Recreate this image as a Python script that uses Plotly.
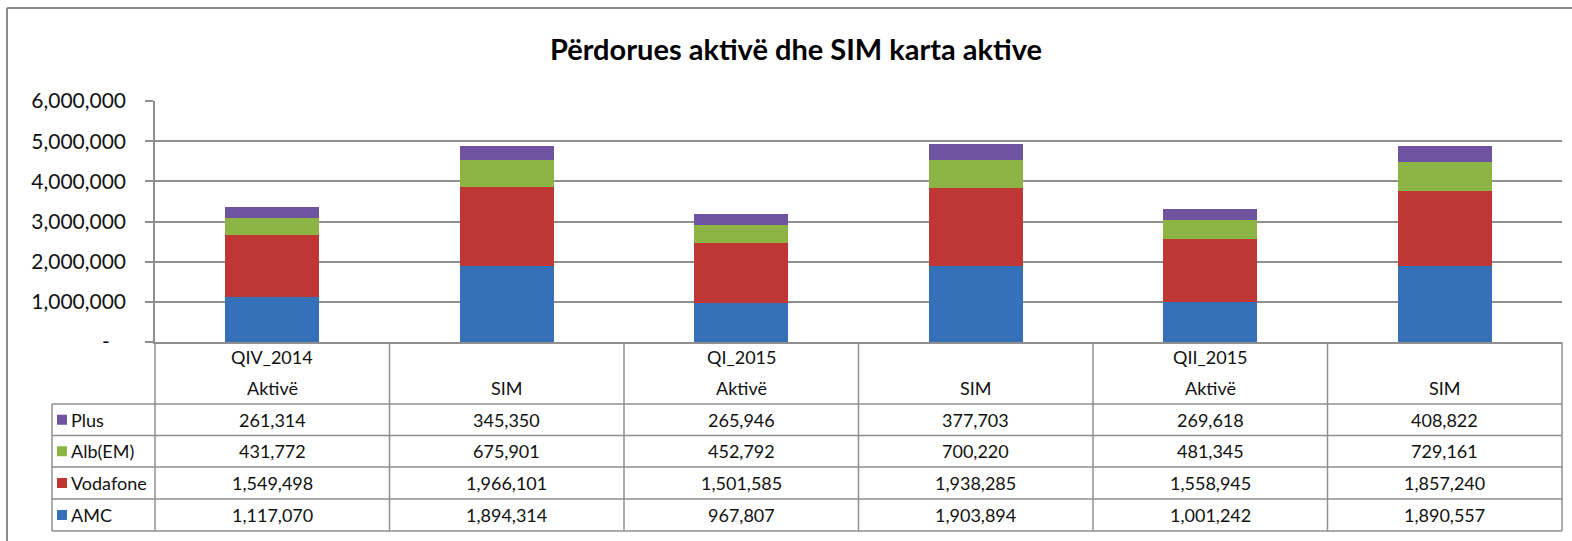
import plotly.graph_objects as go

# ---- data ----
group_labels = ["QIV_2014", "", "QI_2015", "", "QII_2015", ""]
sub_labels = ["Aktivë", "SIM", "Aktivë", "SIM", "Aktivë", "SIM"]
series_names = ["AMC", "Vodafone", "Alb(EM)", "Plus"]
amc = [1117070, 1894314, 967807, 1903894, 1001242, 1890557]
vodafone = [1549498, 1966101, 1501585, 1938285, 1558945, 1857240]
alb_em = [431772, 675901, 452792, 700220, 481345, 729161]
plus = [261314, 345350, 265946, 377703, 269618, 408822]
y_tickvals = [0, 1000000, 2000000, 3000000, 4000000, 5000000, 6000000]
y_ticktext = ["-\u00a0\u00a0\u00a0", "1,000,000", "2,000,000", "3,000,000", "4,000,000", "5,000,000", "6,000,000"]

colors = {"AMC": "#3570b8", "Vodafone": "#be3735", "Alb(EM)": "#8cb445", "Plus": "#6f52a0"}
values = {"AMC": amc, "Vodafone": vodafone, "Alb(EM)": alb_em, "Plus": plus}

W, H = 1572, 541
L, R, T, B = 155, 1562, 101, 342
FONT = "Lato"
GRID = "#8f8f8f"
TXT = "#111111"


def px(x):
    return (x - L) / (R - L)


def py(y):
    return (B - y) / (B - T)


xs = list(range(len(sub_labels)))
fig = go.Figure()
for name in series_names:
    fig.add_trace(go.Bar(
        x=xs, y=values[name], name=name, width=0.4,
        marker=dict(color=colors[name], line=dict(width=0)),
        showlegend=False,
    ))

shapes = []
annotations = []


def line(x0, y0, x1, y1, color=GRID, width=1.5):
    shapes.append(dict(type="line", xref="paper", yref="paper",
                       x0=px(x0), y0=py(y0), x1=px(x1), y1=py(y1),
                       line=dict(color=color, width=width), layer="above"))


def text(x, y, s, xref="x", xanchor="center"):
    annotations.append(dict(xref=xref, yref="paper", x=x, y=y, text=s,
                            xanchor=xanchor, yanchor="middle", showarrow=False,
                            font=dict(family=FONT, size=18, color=TXT)))


# outer chart border (top and left)
line(7, 8, W + 5, 8, color="#8a8a8a", width=2)
line(7, 8, 7, H + 5, color="#8a8a8a", width=2)

# table geometry
col_w = (R - L) / len(sub_labels)
row_tops = [404, 435.5, 467, 499, 531]
leg_left = 52
for i in range(len(sub_labels) + 1):
    line(L + i * col_w, B, L + i * col_w, row_tops[-1])
line(leg_left, row_tops[0], leg_left, row_tops[-1])
for yv in row_tops:
    line(leg_left, yv, R, yv)

# header labels
for i in xs:
    if group_labels[i]:
        text(i, py(357), group_labels[i])
    text(i, py(388), sub_labels[i])

# rows (top to bottom: Plus, Alb(EM), Vodafone, AMC)
row_order = ["Plus", "Alb(EM)", "Vodafone", "AMC"]
for r, name in enumerate(row_order):
    yc = (row_tops[r] + row_tops[r + 1]) / 2
    shapes.append(dict(type="rect", xref="paper", yref="paper",
                       x0=px(57), x1=px(67), y0=py(yc + 5), y1=py(yc - 5),
                       fillcolor=colors[name], line=dict(width=0)))
    text(px(69), py(yc), name, xref="paper", xanchor="left")
    for i in xs:
        text(i, py(yc), f"{values[name][i]:,}")

fig.update_layout(
    width=W, height=H,
    margin=dict(l=L, r=W - R, t=T, b=H - B, pad=0),
    paper_bgcolor="white", plot_bgcolor="white",
    barmode="stack",
    title=dict(text="<b>Përdorues aktivë dhe SIM karta aktive</b>",
               x=796 / W, xanchor="center", y=1 - 50 / H, yanchor="middle",
               xref="container", yref="container",
               font=dict(family=FONT, size=29, color="#000")),
    xaxis=dict(range=[-0.5, len(sub_labels) - 0.5], showticklabels=False, showgrid=False,
               zeroline=False, showline=True, linecolor=GRID, linewidth=1.5, ticks=""),
    yaxis=dict(range=[0, 6000000], tickvals=y_tickvals, ticktext=y_ticktext,
               showgrid=True, gridcolor=GRID, gridwidth=1.5, zeroline=False,
               showline=True, linecolor=GRID, linewidth=1.5,
               ticks="outside", ticklen=8, tickcolor=GRID, tickwidth=1.5,
               ticklabelstandoff=15,
               tickfont=dict(family=FONT, size=21, color=TXT)),
    shapes=shapes, annotations=annotations,
)

fig.write_html("out.html", config={"displayModeBar": False},
               post_script="document.body.style.margin='0';")
